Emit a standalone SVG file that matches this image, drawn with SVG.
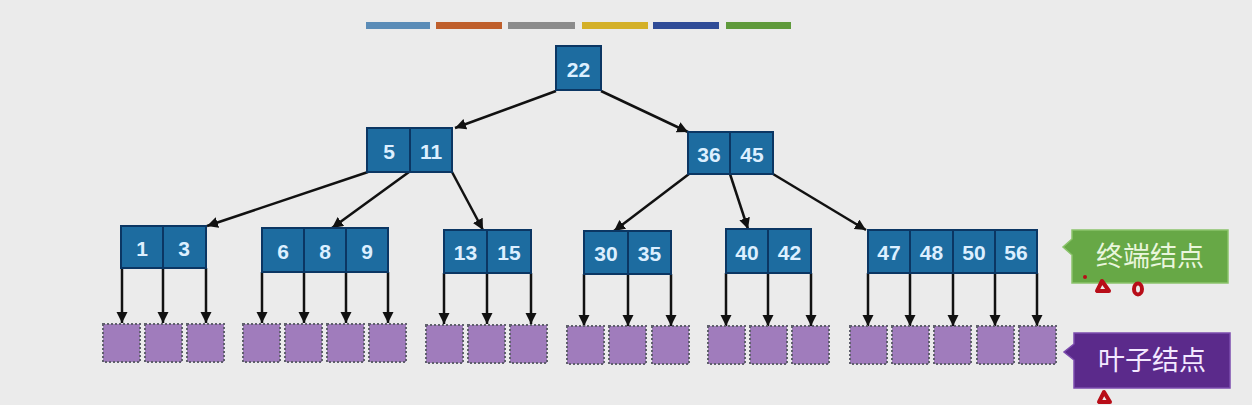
<svg xmlns="http://www.w3.org/2000/svg" width="1252" height="405" viewBox="0 0 1252 405">
<style>
.k{fill:#1d6ca0;stroke:#0b3663;stroke-width:2}
.d{stroke:#0b3663;stroke-width:2}
.t{font-family:"Liberation Sans",Arial,sans-serif;font-size:21px;font-weight:bold;fill:#dcefff;text-anchor:middle;dominant-baseline:central}
.lf{fill:#a07cbc;stroke:#5f5f6c;stroke-width:2;stroke-dasharray:2 2}
.e{stroke:#111;stroke-width:2.5;fill:none;marker-end:url(#ah)}
.cl{font-family:"Liberation Sans","Noto Sans CJK SC",sans-serif;font-size:27px;text-anchor:middle;dominant-baseline:central}
.rm{stroke:#b80d18;stroke-width:4;fill:none;stroke-linecap:round;stroke-linejoin:round}
</style>
<defs>
<marker id="ah" markerUnits="userSpaceOnUse" markerWidth="12" markerHeight="12" refX="11" refY="5.5" orient="auto">
<path d="M0,0 L11,5.5 L0,11 Z" fill="#111"/>
</marker>
</defs>
<rect width="1252" height="405" fill="#ebebeb"/>
<g id="legend">
<rect x="366" y="22" width="64" height="7" fill="#5b8cb7"/>
<rect x="436" y="22" width="66" height="7" fill="#bf5f2c"/>
<rect x="508" y="22" width="67" height="7" fill="#8b8b8b"/>
<rect x="582" y="22" width="66" height="7" fill="#d4b028"/>
<rect x="653" y="22" width="66" height="7" fill="#2f4c97"/>
<rect x="726" y="22" width="65" height="7" fill="#5f9a3b"/>
</g>
<g id="connectors">
<line class="e" x1="556" y1="91" x2="455" y2="128"/>
<line class="e" x1="601" y1="91" x2="688" y2="132"/>
<line class="e" x1="368" y1="172" x2="207" y2="226"/>
<line class="e" x1="409" y1="172" x2="332" y2="228"/>
<line class="e" x1="452" y1="172" x2="483" y2="230"/>
<line class="e" x1="689" y1="174" x2="614" y2="231"/>
<line class="e" x1="730" y1="174" x2="748" y2="229"/>
<line class="e" x1="773" y1="174" x2="866" y2="230"/>
<line class="e" x1="122" y1="268" x2="122" y2="323"/>
<line class="e" x1="163" y1="268" x2="163" y2="323"/>
<line class="e" x1="206" y1="268" x2="206" y2="323"/>
<line class="e" x1="262" y1="272" x2="262" y2="323"/>
<line class="e" x1="304" y1="272" x2="304" y2="323"/>
<line class="e" x1="346" y1="272" x2="346" y2="323"/>
<line class="e" x1="388" y1="272" x2="388" y2="323"/>
<line class="e" x1="444" y1="273" x2="444" y2="324"/>
<line class="e" x1="487" y1="273" x2="487" y2="324"/>
<line class="e" x1="531" y1="273" x2="531" y2="324"/>
<line class="e" x1="584" y1="274" x2="584" y2="326"/>
<line class="e" x1="628" y1="274" x2="628" y2="326"/>
<line class="e" x1="671" y1="274" x2="671" y2="326"/>
<line class="e" x1="726" y1="273" x2="726" y2="326"/>
<line class="e" x1="768" y1="273" x2="768" y2="326"/>
<line class="e" x1="811" y1="273" x2="811" y2="326"/>
<line class="e" x1="868" y1="273" x2="868" y2="326"/>
<line class="e" x1="910" y1="273" x2="910" y2="326"/>
<line class="e" x1="953" y1="273" x2="953" y2="326"/>
<line class="e" x1="995" y1="273" x2="995" y2="326"/>
<line class="e" x1="1037" y1="273" x2="1037" y2="326"/>
</g>
<g id="n22">
<rect class="k" x="556" y="46" width="45" height="44"/>
<text class="t" x="578.5" y="69">22</text>
</g>
<g id="n5_11">
<rect class="k" x="367" y="128" width="85" height="44"/>
<line class="d" x1="410" y1="128" x2="410" y2="172"/>
<text class="t" x="389" y="151">5</text>
<text class="t" x="431" y="151">11</text>
</g>
<g id="n36_45">
<rect class="k" x="688" y="132" width="85" height="42"/>
<line class="d" x1="730" y1="132" x2="730" y2="174"/>
<text class="t" x="709" y="154">36</text>
<text class="t" x="752" y="154">45</text>
</g>
<g id="n1_3">
<rect class="k" x="121" y="226" width="85" height="42"/>
<line class="d" x1="163" y1="226" x2="163" y2="268"/>
<text class="t" x="142" y="248">1</text>
<text class="t" x="184" y="248">3</text>
</g>
<g id="n6_8_9">
<rect class="k" x="262" y="228" width="126" height="44"/>
<line class="d" x1="304" y1="228" x2="304" y2="272"/>
<line class="d" x1="346" y1="228" x2="346" y2="272"/>
<text class="t" x="283" y="251">6</text>
<text class="t" x="325" y="251">8</text>
<text class="t" x="367" y="251">9</text>
</g>
<g id="n13_15">
<rect class="k" x="444" y="230" width="87" height="43"/>
<line class="d" x1="487" y1="230" x2="487" y2="273"/>
<text class="t" x="465.5" y="252">13</text>
<text class="t" x="509" y="252">15</text>
</g>
<g id="n30_35">
<rect class="k" x="584" y="231" width="87" height="43"/>
<line class="d" x1="628" y1="231" x2="628" y2="274"/>
<text class="t" x="606" y="253">30</text>
<text class="t" x="649.5" y="253">35</text>
</g>
<g id="n40_42">
<rect class="k" x="726" y="229" width="85" height="44"/>
<line class="d" x1="768" y1="229" x2="768" y2="273"/>
<text class="t" x="747" y="252">40</text>
<text class="t" x="789.5" y="252">42</text>
</g>
<g id="n47_56">
<rect class="k" x="868" y="230" width="169" height="43"/>
<line class="d" x1="910" y1="230" x2="910" y2="273"/>
<line class="d" x1="953" y1="230" x2="953" y2="273"/>
<line class="d" x1="995" y1="230" x2="995" y2="273"/>
<text class="t" x="889" y="252">47</text>
<text class="t" x="931.5" y="252">48</text>
<text class="t" x="974" y="252">50</text>
<text class="t" x="1016" y="252">56</text>
</g>
<g id="leaves">
<rect class="lf" x="103" y="324" width="37" height="38"/>
<rect class="lf" x="145" y="324" width="37" height="38"/>
<rect class="lf" x="187" y="324" width="37" height="38"/>
<rect class="lf" x="243" y="324" width="37" height="38"/>
<rect class="lf" x="285" y="324" width="37" height="38"/>
<rect class="lf" x="327" y="324" width="37" height="38"/>
<rect class="lf" x="369" y="324" width="37" height="38"/>
<rect class="lf" x="426" y="325" width="37" height="38"/>
<rect class="lf" x="468" y="325" width="37" height="38"/>
<rect class="lf" x="510" y="325" width="37" height="38"/>
<rect class="lf" x="567" y="326" width="37" height="38"/>
<rect class="lf" x="609" y="326" width="37" height="38"/>
<rect class="lf" x="652" y="326" width="37" height="38"/>
<rect class="lf" x="708" y="326" width="37" height="38"/>
<rect class="lf" x="750" y="326" width="37" height="38"/>
<rect class="lf" x="792" y="326" width="37" height="38"/>
<rect class="lf" x="850" y="326" width="37" height="38"/>
<rect class="lf" x="892" y="326" width="37" height="38"/>
<rect class="lf" x="934" y="326" width="37" height="38"/>
<rect class="lf" x="977" y="326" width="37" height="38"/>
<rect class="lf" x="1019" y="326" width="37" height="38"/>
</g>
<g id="label_terminal">
<path d="M1072,230 H1228 V283 H1072 V255 L1063,247 L1072,239 Z" fill="#67a846" stroke="#8cc46c" stroke-width="1.5"/>
<text class="cl" x="1150" y="257" fill="#e9f6dc">终端结点</text>
</g>
<g id="label_leaf">
<path d="M1074,333 H1230 V388 H1074 V360 L1064,352 L1074,344 Z" fill="#5b2a8b" stroke="#7c4cae" stroke-width="1.5"/>
<text class="cl" x="1152" y="361" fill="#f3e9ff">叶子结点</text>
</g>
<g id="annotations">
<circle cx="1085" cy="277" r="2" fill="#b80d18"/>
<path class="rm" d="M1102,281 L1097,291 L1109,291 Z"/>
<ellipse class="rm" cx="1138" cy="289" rx="4" ry="5.5"/>
<path class="rm" d="M1104,392 L1099,402 L1110,402 Z"/>
</g>
</svg>
